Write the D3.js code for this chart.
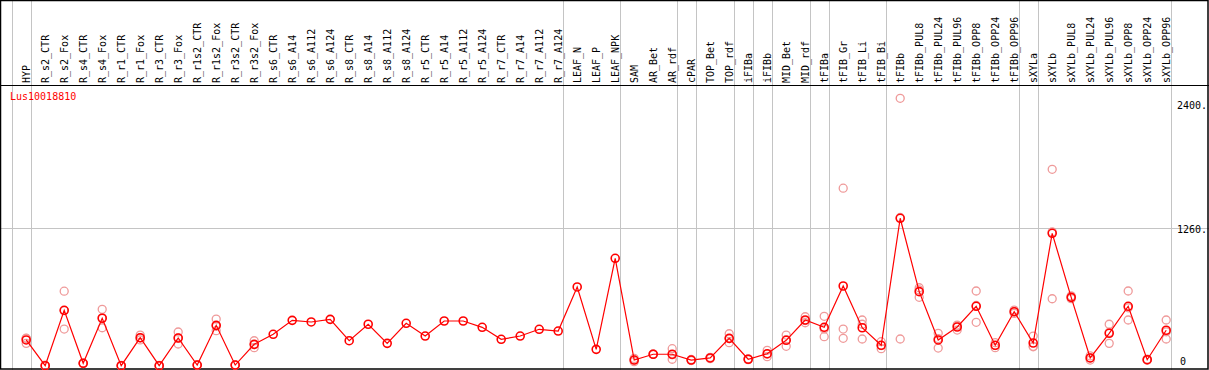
<!DOCTYPE html>
<html>
<head>
<meta charset="utf-8">
<script src="https://cdn.jsdelivr.net/npm/d3@7"></script>
<style>
  body { margin: 0; background: #fff; }
  svg { display: block; }
  text { font-family: "DejaVu Sans Mono", monospace; font-size: 10px; }
</style>
</head>
<body>
<svg id="chart" width="1209" height="370"></svg>
<script>
// sample columns
var samples = ["HYP",
  "R_s2_CTR","R_s2_Fox","R_s4_CTR","R_s4_Fox","R_r1_CTR","R_r1_Fox","R_r3_CTR","R_r3_Fox",
  "R_r1s2_CTR","R_r1s2_Fox","R_r3s2_CTR","R_r3s2_Fox",
  "R_s6_CTR","R_s6_A14","R_s6_A112","R_s6_A124","R_s8_CTR","R_s8_A14","R_s8_A112","R_s8_A124",
  "R_r5_CTR","R_r5_A14","R_r5_A112","R_r5_A124","R_r7_CTR","R_r7_A14","R_r7_A112","R_r7_A124",
  "LEAF_N","LEAF_P","LEAF_NPK","SAM","AR_Bet","AR_rdf","cPAR","TOP_Bet","TOP_rdf",
  "iFIBa","iFIBb","MID_Bet","MID_rdf","tFIBa","tFIB_Gr","tFIB_Li","tFIB_Bi",
  "tFIBb","tFIBb_PUL8","tFIBb_PUL24","tFIBb_PUL96","tFIBb_OPP8","tFIBb_OPP24","tFIBb_OPP96",
  "sXYLa","sXYLb","sXYLb_PUL8","sXYLb_PUL24","sXYLb_PUL96","sXYLb_OPP8","sXYLb_OPP24","sXYLb_OPP96"];

// a grey separator is drawn after each of these
var groupEnds = ["HYP","R_r7_A124","LEAF_NPK","AR_rdf","cPAR","TOP_rdf","iFIBa","iFIBb",
  "MID_rdf","tFIBa","tFIB_Bi","tFIBb_OPP96","sXYLa","sXYLb_OPP96"];

// mean expression
var meanVals = [236, 0, 508, 22, 435, 0, 257, 0, 254, 6, 370, 6, 196,
  288, 416, 401, 425, 229, 380, 205, 389, 272, 410, 410, 352, 242, 272, 334, 318,
  722, 150, 985, 52, 105, 105, 52, 71, 251, 59, 110, 233, 419, 352, 731, 348, 187,
  1352, 679, 236, 355, 545, 187, 495, 208, 1214, 627, 71, 297, 545, 55, 325];

// replicates (null = none)
var rep1 = [251, 4, 683, 22, 517, 0, 281, 0, 309, 6, 428, 6, 229,
  null, null, null, null, null, null, null, null, null, null, null, null, null, null, null, null,
  null, null, null, 37, 105, 156, 52, 71, 293, 59, 141, 281, 449, 453, 1628, 419, 220,
  2452, 715, 297, 373, 685, 211, 495, 272, 1801, 627, 52, 380, 685, 55, 419];
var rep2 = [205, 0, 336, 20, 348, 0, 236, 2, 199, 4, 321, 4, 165,
  null, null, null, null, null, null, null, null, null, null, null, null, null, null, null, null,
  null, null, null, 67, 105, 59, 47, 65, 211, 55, 83, 178, 394, 266, 336, 245, 156,
  245, 627, 162, 327, 398, 165, 480, 174, 614, 615, 71, 205, 419, 50, 245];
var rep3 = [252, 0, 505, 24, 440, 2, 254, 0, 254, 8, 361, 8, 194,
  null, null, null, null, null, null, null, null, null, null, null, null, null, null, null, null,
  null, null, null, 52, 105, 100, 57, 77, 249, 63, 106, 240, 414, 337, 251, 380, 185,
  1359, 695, 249, 365, 552, 185, 510, 178, 1227, 640, 90, 306, 531, 60, 311];

var axisTicks = [2400, 1260, 0];
var geneName = "Lus10018810";

var svg = d3.select("#chart"),
    width = +svg.attr("width"),
    height = +svg.attr("height"),
    headerBottom = 85;

var x = d3.scalePoint().domain(samples).range([26.2, 1166.2]);
var step = x.step();
var y = d3.scaleLinear().domain([0, 2565]).range([365.7, 86]);

// separators
var sepX = [x(samples[0]) - step + 4.5].concat(groupEnds.map(function(s) { return x(s) + 4.5; }));
svg.append("g").selectAll("line").data(sepX).enter().append("line")
  .attr("x1", function(d) { return Math.round(d) + 0.5; })
  .attr("x2", function(d) { return Math.round(d) + 0.5; })
  .attr("y1", 0).attr("y2", height)
  .style("stroke", "#c4c4c4").style("stroke-width", 1);

// horizontal 1260 line
svg.append("line")
  .attr("x1", 0).attr("x2", width)
  .attr("y1", Math.round(y(1260)) + 0.5).attr("y2", Math.round(y(1260)) + 0.5)
  .style("stroke", "#c4c4c4").style("stroke-width", 1);

// header labels
svg.append("g").selectAll("text").data(samples).enter().append("text")
  .attr("transform", function(d) { return "translate(" + (x(d) + 0.5) + "," + (headerBottom - 2) + ")rotate(-90)"; })
  .attr("dominant-baseline", "middle")
  .style("fill", "#000")
  .text(function(d) { return d; });

// header line + frame
svg.append("line")
  .attr("x1", 0).attr("x2", width).attr("y1", headerBottom + 0.5).attr("y2", headerBottom + 0.5)
  .style("stroke", "#000").style("stroke-width", 1.2);
svg.append("rect")
  .attr("x", 0.5).attr("y", 0.5).attr("width", width - 1.5).attr("height", height - 1.5)
  .style("fill", "none").style("stroke", "#000").style("stroke-width", 1.5);

// right axis labels
svg.append("g").selectAll("text").data(axisTicks).enter().append("text")
  .attr("x", function(d) { return d == 0 ? 1180 : 1177; })
  .attr("y", function(d) { return d == 0 ? 362 : y(d) + 2; })
  .attr("dominant-baseline", "middle")
  .style("fill", "#000")
  .text(function(d) { return d == 0 ? "0" : d + "."; });

// gene name
svg.append("text")
  .attr("x", 10).attr("y", 97)
  .attr("dominant-baseline", "middle")
  .style("fill", "#ff0000")
  .text(geneName);

// replicates
var reps = [];
[rep1, rep2, rep3].forEach(function(arr) {
  arr.forEach(function(v, i) { if (v != null) reps.push({s: samples[i], v: v}); });
});
svg.append("g").selectAll("circle").data(reps).enter().append("circle")
  .attr("cx", function(d) { return x(d.s); })
  .attr("cy", function(d) { return y(d.v); })
  .attr("r", 4)
  .style("fill", "none")
  .style("stroke", "#ef9a9a")
  .style("stroke-width", 1.3);

// mean line
var data = samples.map(function(s, i) { return {s: s, v: meanVals[i]}; });
var line = d3.line()
  .x(function(d) { return x(d.s); })
  .y(function(d) { return y(d.v); });
svg.append("path")
  .datum(data)
  .attr("d", line)
  .style("fill", "none")
  .style("stroke", "#ff0000")
  .style("stroke-width", 1.2);

svg.append("g").selectAll("circle").data(data).enter().append("circle")
  .attr("cx", function(d) { return x(d.s); })
  .attr("cy", function(d) { return y(d.v); })
  .attr("r", 4)
  .style("fill", "none")
  .style("stroke", "#ff0000")
  .style("stroke-width", 1.6);
</script>
</body>
</html>
